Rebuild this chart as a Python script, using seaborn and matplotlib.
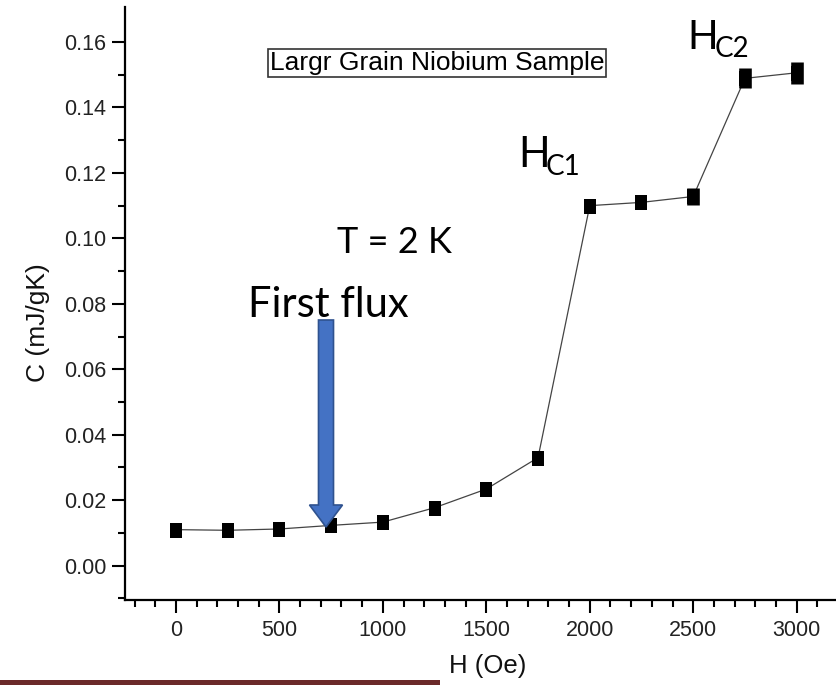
import matplotlib
matplotlib.use("Agg")
import matplotlib.pyplot as plt
import seaborn as sns
import numpy as np
import pandas as pd
from matplotlib.patches import FancyArrow, Rectangle

# ---- data ----
field_oe = [0, 250, 500, 750, 1000, 1250, 1500, 1750, 2000, 2250, 2500, 2750, 3000]
heat_capacity = [0.0110, 0.0108, 0.0112, 0.0123, 0.0133, 0.0177, 0.0234, 0.0330,
                 0.1100, 0.1110, 0.1128, 0.1489, 0.1506]
# half vertical extent of the plotted symbols (overlapping repeats)
c_halfrange = [0.0, 0.0, 0.0, 0.0, 0.0, 0.0, 0.0, 0.0, 0.0, 0.0, 0.0026, 0.0031, 0.0033]
x_ticks = [0, 500, 1000, 1500, 2000, 2500, 3000]
y_ticks = [0.00, 0.02, 0.04, 0.06, 0.08, 0.10, 0.12, 0.14, 0.16]

df = pd.DataFrame({"H": field_oe, "C": heat_capacity, "err": c_halfrange})

sns.set_theme(style="ticks")
plt.rcParams["font.family"] = ["Liberation Sans", "DejaVu Sans"]

W, H = 836, 685
fig = plt.figure(figsize=(W / 100, H / 100), dpi=100)
ax = fig.add_axes([125 / W, (H - 600) / H, 1 - 125 / W, (600 - 7) / H])

MS = 10.8
ASP = 0.42
rect_marker = [(-ASP, -0.5), (ASP, -0.5), (ASP, 0.5), (-ASP, 0.5), (-ASP, -0.5)]
sns.lineplot(data=df, x="H", y="C", ax=ax, color="#444444", linewidth=0.9,
             marker=rect_marker, markersize=MS, markerfacecolor="black",
             markeredgecolor="black", markeredgewidth=0, zorder=3)
big = df[df["err"] > 0]
ax.errorbar(big["H"], big["C"], yerr=big["err"], fmt="none", ecolor="black",
            elinewidth=2 * ASP * MS, capsize=0, zorder=4)

ax.set_xlim(-246, 3190)
ax.set_ylim(-0.0105, 0.1707)
ax.set_xticks(x_ticks)
ax.set_yticks(y_ticks)
ax.set_xticklabels([str(v) for v in x_ticks])
ax.set_yticklabels([f"{v:.2f}" for v in y_ticks])
ax.set_xticks(np.arange(-200, 3200, 100), minor=True)
ax.set_yticks(np.arange(-0.01, 0.17, 0.01), minor=True)
ax.tick_params(axis="both", which="major", length=9.5, width=1.5, direction="out",
               labelsize=15.5, labelcolor="#222222", color="black")
ax.tick_params(axis="both", which="minor", length=5, width=1.5, direction="out",
               color="black")
ax.tick_params(axis="x", pad=5)
ax.tick_params(axis="y", pad=4)
for s in ["top", "right"]:
    ax.spines[s].set_visible(False)
for s in ["left", "bottom"]:
    ax.spines[s].set_linewidth(1.6)
    ax.spines[s].set_color("black")
ax.set_xlabel("H (Oe)", fontsize=18.5, color="#111111")
ax.set_ylabel("C (mJ/gK)", fontsize=19, color="#111111")
ax.xaxis.set_label_coords(0.5105, -0.091)
ax.yaxis.set_label_coords(-0.1055, 0.467)
ax.set_facecolor("white")

def fx(px):
    return px / W

def fy(py):
    return 1 - py / H

# legend-like box
fig.text(fx(437), fy(63), "Largr Grain Niobium Sample", ha="center", va="center",
         fontsize=19, color="black",
         bbox=dict(boxstyle="square,pad=0.08", facecolor="white", edgecolor="#333333",
                   linewidth=1.2))

cal = ["Lato", "DejaVu Sans"]
fig.text(fx(394), fy(253), "T = 2 K", ha="center", va="baseline", fontsize=26,
         color="black", family=cal)
fig.text(fx(328), fy(317), "First flux", ha="center", va="baseline", fontsize=30,
         color="black", family=cal)
fig.text(fx(518), fy(166.7), "H", ha="left", va="baseline", fontsize=30,
         color="black", family=cal)
fig.text(fx(546), fy(175), "C1", ha="left", va="baseline", fontsize=20,
         color="black", family=cal)
fig.text(fx(687), fy(49.3), "H", ha="left", va="baseline", fontsize=29,
         color="black", family=cal)
fig.text(fx(715), fy(56.7), "C2", ha="left", va="baseline", fontsize=20,
         color="black", family=cal)

# blue arrow (figure pixel based)
arrow = FancyArrow(fx(326), fy(320), 0, fy(527) - fy(320), width=15 / W,
                   head_width=33 / W, head_length=22 / H, length_includes_head=True,
                   facecolor="#4472C4", edgecolor="#2F528F", linewidth=1.2,
                   transform=fig.transFigure, zorder=10)
fig.patches.append(arrow)

# dark red strip at bottom
fig.patches.append(Rectangle((0, 0), 440 / W, 5 / H, transform=fig.transFigure,
                             facecolor="#6B2A2A", edgecolor="none"))

fig.savefig("out.png", dpi=100, facecolor="white")
